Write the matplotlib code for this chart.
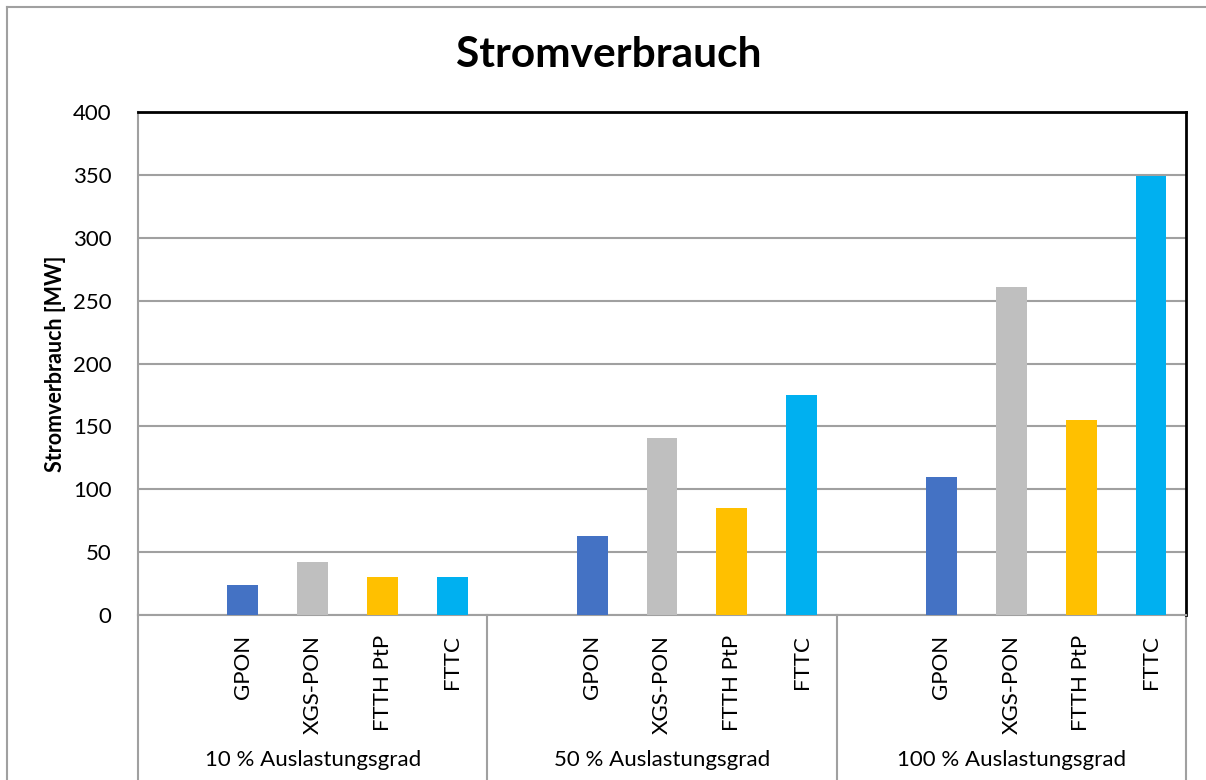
import matplotlib
matplotlib.use("Agg")
import matplotlib.pyplot as plt
from matplotlib.lines import Line2D

plt.rcParams['font.family'] = ['Lato', 'DejaVu Sans']

groups = ["10 % Auslastungsgrad", "50 % Auslastungsgrad", "100 % Auslastungsgrad"]
technologies = ["", "GPON", "XGS-PON", "FTTH PtP", "FTTC"]
values = {
    "10 % Auslastungsgrad": [None, 24, 42, 30, 30],
    "50 % Auslastungsgrad": [None, 63, 141, 85, 175],
    "100 % Auslastungsgrad": [None, 110, 261, 155, 349],
}
colors = [None, "#4472C4", "#BFBFBF", "#FFC000", "#00B0F0"]
yticks = [0, 50, 100, 150, 200, 250, 300, 350, 400]

W, H = 1206, 780
fig = plt.figure(figsize=(W / 100, H / 100), dpi=100)
ax = fig.add_axes([138 / W, 1 - 615 / H, (1186 - 138) / W, (615 - 112) / H])

n = len(technologies)
for gi, g in enumerate(groups):
    for ti, v in enumerate(values[g]):
        if v is None:
            continue
        x = gi * n + ti
        ax.bar(x, v, width=0.44, color=colors[ti], zorder=3, linewidth=0)

ax.set_xlim(-0.5, len(groups) * n - 0.5)
ax.set_ylim(0, 400)
ax.set_yticks(yticks)
ax.set_yticklabels([str(t) for t in yticks], fontsize=16)
ax.tick_params(axis='y', length=0, pad=19)
ax.set_xticks([])
ax.yaxis.grid(True, color="#A0A0A0", linewidth=1.5, zorder=0)
ax.set_axisbelow(True)
for s in ["top", "right"]:
    ax.spines[s].set_color("black")
    ax.spines[s].set_linewidth(2)
for s in ["left", "bottom"]:
    ax.spines[s].set_color("#A0A0A0")
    ax.spines[s].set_linewidth(1.5)

ax.set_ylabel("Stromverbrauch [MW]", fontsize=15.5, fontweight='bold')
ax.yaxis.set_label_coords(-(138 - 66) / (1186 - 138), 0.5)

# category labels
trans = ax.get_xaxis_transform()
y_cat = -(635 - 615) / (615 - 112)
y_grp = -(760 - 615) / (615 - 112)
y_sep = -(780 - 615) / (615 - 112)
for gi, g in enumerate(groups):
    for ti, t in enumerate(technologies):
        if t:
            ax.text(gi * n + ti, y_cat, t, rotation=90, ha='center', va='top',
                    fontsize=16, transform=trans)
    ax.text(gi * n + (n - 1) / 2, y_grp, g, ha='center', va='center',
            fontsize=16, transform=trans)
for b in range(len(groups) + 1):
    xb = b * n - 0.5
    ax.add_line(Line2D([xb, xb], [0, y_sep], transform=trans, color="#A0A0A0",
                       linewidth=1.5, clip_on=False))

fig.text(609 / W, 1 - 55 / H, "Stromverbrauch", ha='center', va='center',
         fontsize=30.5, fontweight='bold')

# chart area border
fig.add_artist(Line2D([7 / W, 7 / W], [0, 1 - 7 / H], color="#A0A0A0", linewidth=1.5,
                      transform=fig.transFigure))
fig.add_artist(Line2D([7 / W, 1], [1 - 7 / H, 1 - 7 / H], color="#A0A0A0", linewidth=1.5,
                      transform=fig.transFigure))

fig.savefig("out.png", dpi=100)
